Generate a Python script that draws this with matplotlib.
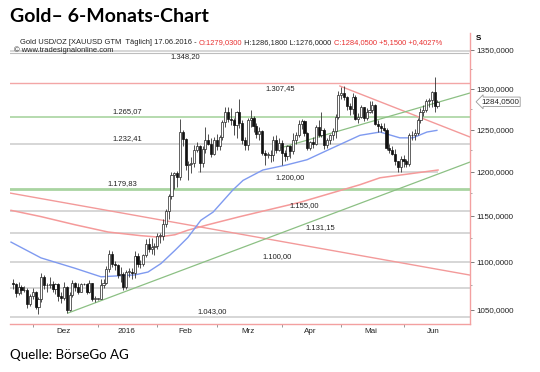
import numpy as np
import pandas as pd
import matplotlib
matplotlib.use("Agg")
import matplotlib.pyplot as plt
from matplotlib.ticker import FixedLocator, NullFormatter, FuncFormatter

# daily OHLC, gold USD/oz, 20.11.2015 - 17.06.2016 (weekdays)
dates = pd.bdate_range("2015-11-20", "2016-06-17")

opens = [1077, 1076, 1067, 1073, 1070, 1070, 1056,
         1064, 1068, 1053, 1061, 1084, 1075, 1075, 1076, 1071, 1076, 1064, 1062, 1073, 1050,
         1065, 1077, 1073, 1068, 1076, 1076, 1068, 1077, 1061,
         1061, 1061, 1075, 1078, 1092, 1108, 1098, 1096, 1086, 1087, 1073, 1089, 1089, 1088,
         1106, 1098, 1097, 1107, 1119, 1114, 1116,
         1117, 1128, 1128, 1141, 1155, 1172, 1196, 1198, 1194, 1247, 1239, 1208, 1209, 1210,
         1226, 1230, 1210, 1227, 1238, 1233, 1221,
         1238, 1230, 1241, 1259, 1271, 1263, 1262, 1256, 1272, 1258, 1237, 1232, 1262, 1264,
         1254, 1245, 1248, 1222, 1220, 1220, 1219, 1237, 1225,
         1234, 1222, 1218, 1230, 1224, 1238, 1243, 1257, 1260, 1246, 1228, 1235, 1233, 1253,
         1243, 1250, 1231, 1237, 1244, 1248, 1265,
         1293, 1295, 1290, 1279, 1275, 1290, 1263, 1265, 1277, 1264, 1272, 1274, 1280, 1257,
         1254, 1252, 1250, 1228, 1225, 1221, 1212, 1206,
         1215, 1212, 1209, 1243, 1243, 1246, 1262, 1272, 1274, 1285, 1286, 1296, 1279.03]
highs = [1082, 1077, 1079, 1075, 1074, 1072, 1066,
         1072, 1069, 1063, 1088, 1086, 1078, 1084, 1080, 1078, 1078, 1068, 1079, 1074, 1068,
         1081, 1079, 1077, 1078, 1077, 1077, 1081, 1078, 1064,
         1062, 1082, 1082, 1095, 1112, 1111, 1101, 1098, 1094, 1089, 1091, 1093, 1093, 1111,
         1109, 1102, 1108, 1124, 1126, 1125, 1120,
         1131, 1131, 1146, 1157, 1174, 1200, 1200, 1201, 1263, 1250, 1240, 1213, 1217, 1232,
         1235, 1231, 1230, 1253, 1245, 1240, 1241,
         1245, 1243, 1261, 1277, 1278, 1276, 1264, 1273, 1287, 1261, 1241, 1264, 1274, 1266,
         1258, 1253, 1250, 1225, 1223, 1226, 1242, 1243, 1240,
         1238, 1225, 1232, 1232, 1246, 1247, 1262, 1263, 1262, 1247, 1236, 1241, 1256, 1261,
         1271, 1252, 1240, 1245, 1252, 1269, 1297,
         1303, 1304, 1291, 1283, 1295, 1292, 1270, 1280, 1278, 1276, 1285, 1285, 1281, 1262,
         1258, 1258, 1252, 1233, 1230, 1227, 1213, 1218,
         1220, 1215, 1246, 1248, 1251, 1264, 1276, 1280, 1288, 1289, 1297, 1315, 1286.18]
lows = [1071, 1063, 1065, 1066, 1068, 1052, 1054,
        1061, 1051, 1046, 1058, 1071, 1068, 1072, 1068, 1066, 1059, 1057, 1060, 1047, 1049,
        1063, 1069, 1066, 1068, 1075, 1066, 1067, 1059, 1058,
        1060, 1061, 1072, 1076, 1089, 1094, 1091, 1083, 1079, 1070, 1071, 1084, 1082, 1083,
        1094, 1093, 1095, 1105, 1110, 1108, 1107,
        1114, 1120, 1123, 1137, 1146, 1169, 1180, 1182, 1191, 1230, 1202, 1191, 1198, 1205,
        1223, 1200, 1205, 1222, 1231, 1217, 1220,
        1226, 1226, 1238, 1253, 1259, 1255, 1243, 1240, 1252, 1233, 1225, 1225, 1253, 1247,
        1240, 1237, 1220, 1208, 1216, 1211, 1213, 1222, 1224,
        1208, 1212, 1214, 1216, 1221, 1233, 1241, 1251, 1242, 1226, 1226, 1228, 1232, 1241,
        1241, 1227, 1228, 1233, 1238, 1240, 1263,
        1288, 1286, 1274, 1268, 1269, 1262, 1258, 1264, 1260, 1262, 1270, 1270, 1255, 1247,
        1247, 1248, 1226, 1222, 1220, 1208, 1200, 1200,
        1206, 1205, 1207, 1237, 1238, 1243, 1258, 1267, 1271, 1277, 1277, 1272, 1276]
closes = [1076, 1067, 1073, 1070, 1070, 1056, 1064,
          1068, 1053, 1061, 1084, 1075, 1075, 1076, 1071, 1076, 1064, 1062, 1073, 1050, 1065,
          1077, 1073, 1068, 1076, 1076, 1068, 1077, 1061, 1061,
          1061, 1075, 1078, 1092, 1108, 1098, 1096, 1086, 1087, 1073, 1089, 1089, 1088, 1106,
          1098, 1097, 1107, 1119, 1114, 1116, 1117,
          1128, 1128, 1141, 1155, 1172, 1196, 1198, 1194, 1247, 1239, 1208, 1209, 1210, 1226,
          1230, 1210, 1227, 1238, 1233, 1221, 1238,
          1230, 1241, 1259, 1271, 1263, 1262, 1256, 1272, 1258, 1237, 1232, 1262, 1264, 1254,
          1245, 1248, 1222, 1220, 1220, 1219, 1237, 1225, 1234,
          1222, 1218, 1230, 1224, 1238, 1243, 1257, 1260, 1246, 1228, 1235, 1233, 1253, 1243,
          1250, 1231, 1237, 1244, 1248, 1265, 1293,
          1295, 1290, 1279, 1275, 1290, 1263, 1265, 1277, 1264, 1272, 1274, 1280, 1257, 1254,
          1252, 1250, 1228, 1225, 1221, 1212, 1206, 1215,
          1212, 1209, 1243, 1243, 1246, 1262, 1272, 1274, 1285, 1286, 1296, 1279, 1284.05]

# moving averages (bar index, price)
ma_blue_idx = [-0.7, 9.9, 21.9, 31.1, 37.1, 43.1, 47.7, 52.3, 57.2, 61.8, 66.4, 70.7, 77.7,
               81.3, 88.3, 96.8, 103.9, 111.0, 122.6, 129.7, 136.7, 141.3, 146.3, 149.8]
ma_blue = [1121, 1104, 1093, 1084, 1085, 1086, 1089, 1098, 1112, 1126, 1145, 1154, 1179,
           1190, 1202, 1208, 1214, 1225, 1243, 1247, 1240, 1240, 1247, 1249]
ma_red_idx = [-0.7, 9.9, 21.9, 33.6, 45.2, 51.2, 57.2, 61.8, 68.9, 80.2, 101.4, 122.6, 129.7, 150.2]
ma_red = [1156, 1149, 1140, 1132, 1128, 1126.5, 1129, 1134, 1140, 1149, 1165, 1185, 1193, 1202]

# trend lines (start/end bar index and price)
trend_red_long = ([-1.06, 161.5], [1175.5, 1085.8])
trend_red_short = ([115.5, 161.5], [1303.8, 1241.0])
trend_green_long = ([19.4, 161.5], [1046.6, 1211.3])
trend_green_short = ([94.3, 161.5], [1227.8, 1295.0])

# horizontal levels
levels = [1348.20, 1307.45, 1265.07, 1232.41, 1200.00, 1179.83, 1155.00, 1131.15, 1100.00, 1072.00, 1043.00]
level_labels = [True, True, True, True, True, True, True, True, True, False, True]
level_kind = ["grey", "red", "green", "grey", "grey", "greenthick", "grey", "grey", "grey", "grey", "grey"]

month_labels = ["Dez", "2016", "Feb", "Mrz", "Apr", "Mai", "Jun"]
y_ticks = [1050, 1100, 1150, 1200, 1250, 1300, 1350]

# ---------------------------------------------------------------
plt.rcParams['font.family'] = ['Liberation Sans', 'DejaVu Sans']
fig = plt.figure(figsize=(5.4, 3.72), dpi=100)
ax = fig.add_axes([10 / 540, 48 / 372, 460 / 540, 291 / 372])
ax.set_yscale('log')
ax.set_xlim(-1.06, 161.5)
ax.set_ylim(1035.6, 1372.4)

idx = np.arange(len(dates))
o = np.array(opens, float)
h = np.array(highs, float)
l = np.array(lows, float)
c = np.array(closes, float)

# levels
colors = {"grey": ("#cfcfcf", 1.2), "red": ("#f3a6a6", 1.0), "green": ("#a9d4a1", 1.2),
          "greenthick": ("#a9d4a1", 2.0)}
label_pos = {1348.20: (60.8, -1), 1307.45: (94.3, -1), 1265.07: (40.3, 1), 1232.41: (40.3, 1),
             1200.00: (97.9, -1), 1179.83: (38.5, 1), 1155.00: (103.0, 1), 1131.15: (108.5, 1),
             1100.00: (93.3, 1), 1043.00: (70.3, 1)}
for lev, lab, kind in zip(levels, level_labels, level_kind):
    col, lw = colors[kind]
    if lev == 1200.00:
        ax.hlines(lev, 65.4, 150.2, color=col, lw=lw, zorder=1)
    else:
        ax.axhline(lev, color=col, lw=lw, zorder=1)
    if lab:
        txt = f"{lev:,.2f}".replace(",", "X").replace(".", ",").replace("X", ".")
        xp, side = label_pos[lev]
        ax.annotate(txt, (xp, lev), xytext=(0, 1.5 * side), textcoords='offset points',
                    ha='center', va='bottom' if side > 0 else 'top', fontsize=5.5, color='#222222')

# trend lines
ax.plot(*trend_red_long, color='#f39a9a', lw=1.0, zorder=2)
ax.plot(*trend_red_short, color='#f39a9a', lw=1.0, zorder=2)
ax.plot(*trend_green_long, color='#8cc084', lw=0.9, zorder=2)
ax.plot(*trend_green_short, color='#8cc084', lw=0.9, zorder=2)

# moving averages
ax.plot(ma_red_idx, ma_red, color='#f59a9a', lw=1.1, zorder=2)
ax.plot(ma_blue_idx, ma_blue, color='#7f9af0', lw=1.0, zorder=2)

# candles
up = c >= o
ax.vlines(idx, l, h, color='#333333', lw=0.6, zorder=3)
body_lo = np.minimum(o, c)
body_h = np.maximum(np.abs(c - o), 0.6)
ax.bar(idx[up], body_h[up], bottom=body_lo[up], width=0.75, color='white', edgecolor='#222222',
       linewidth=0.5, zorder=4)
ax.bar(idx[~up], body_h[~up], bottom=body_lo[~up], width=0.75, color='#111111', edgecolor='#111111',
       linewidth=0.5, zorder=4)

# axes styling
for s in ['top', 'left']:
    ax.spines[s].set_visible(False)
ax.spines['right'].set_color('#f3a0a0')
ax.spines['bottom'].set_color('#f3a0a0')
ax.spines['right'].set_linewidth(1.0)
ax.spines['bottom'].set_linewidth(1.0)

ax.yaxis.tick_right()
ax.yaxis.set_major_locator(FixedLocator(y_ticks))
ax.yaxis.set_major_formatter(FuncFormatter(lambda v, p: f"{v:.4f}".replace(".", ",")))
ax.yaxis.set_minor_locator(FixedLocator([t + 25 for t in y_ticks]))
ax.yaxis.set_minor_formatter(NullFormatter())
ax.tick_params(axis='y', which='major', length=3, width=0.6, color='#666666', labelsize=5.8,
               pad=1.5, labelcolor='#222222')
ax.tick_params(axis='y', which='minor', length=1.5, width=0.5, color='#888888')

# month ticks and labels
month_id = dates.to_period('M')
starts = [i for i in range(1, len(dates)) if month_id[i] != month_id[i - 1]]
mids = []
for i in [0] + starts:
    p = month_id[i]
    n = len(pd.bdate_range(p.start_time, p.end_time))
    first = len(pd.bdate_range(p.start_time, dates[i])) - 1
    mids.append(i - first + n / 2 - 0.5)
mids = mids[1:]
ax.set_xticks(starts)
ax.set_xticklabels([''] * len(starts))
ax.set_xticks(mids, minor=True)
ax.set_xticklabels(month_labels, minor=True)
ax.tick_params(axis='x', which='major', length=2, width=0.6, color='#888888')
ax.tick_params(axis='x', which='minor', length=0, labelsize=5.8, pad=3, labelcolor='#222222')

# header inside the chart
t1 = ax.text(2.5, 1360, "Gold USD/OZ [XAUUSD GTM  Täglich] 17.06.2016 - ", fontsize=5.4,
             color='#222222', va='center', ha='left')
t2 = ax.annotate("O:1279,0300", xy=(1, 0), xycoords=t1, va='bottom', ha='left', fontsize=5.4,
                 color='#e83030')
t3 = ax.annotate(" H:1286,1800 L:1276,0000 ", xy=(1, 0), xycoords=t2, va='bottom', ha='left',
                 fontsize=5.4, color='#222222')
ax.annotate("C:1284,0500 +5,1500 +0,4027%", xy=(1, 0), xycoords=t3, va='bottom', ha='left',
            fontsize=5.4, color='#e83030')
ax.text(0.2, 1350, "© www.tradesignalonline.com", fontsize=5.4, color='#222222', va='center', ha='left')
ax.plot([-1.06, 160.7], [1345.5, 1345.5], color='#bdbdbd', lw=0.8, zorder=1)

# last price marker
ax.annotate(f"{closes[-1]:.4f}".replace(".", ","), xy=(1, closes[-1]), xycoords=ax.get_yaxis_transform(),
            xytext=(8, 0), textcoords='offset points', va='center', ha='left', fontsize=5.8,
            color='#222222',
            bbox=dict(boxstyle='larrow,pad=0.15', fc='white', ec='#999999', lw=0.6))
fig.text(476 / 540, 1 - 38 / 372, "S", fontsize=5.8, weight='bold', va='center', ha='left')

# title and source
fig.text(10 / 540, 1 - 17 / 372, "Gold– 6-Monats-Chart", fontsize=14, weight='bold',
         family='Lato', va='center', ha='left')
fig.text(10 / 540, 1 - 355 / 372, "Quelle: BörseGo AG", fontsize=9.6, family='Lato',
         va='center', ha='left')

fig.savefig("out.png", dpi=100)
